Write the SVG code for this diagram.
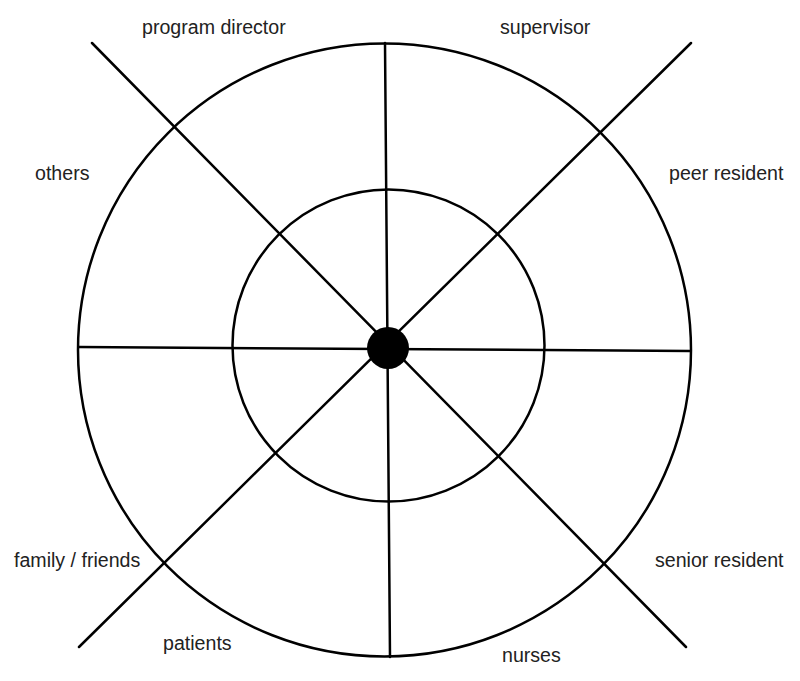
<svg xmlns="http://www.w3.org/2000/svg" width="800" height="681" viewBox="0 0 800 681">
<style>
.ln{stroke:#000;stroke-width:2.5;fill:none;stroke-linecap:round}
.lbl{font-family:"Liberation Sans",Arial,sans-serif;font-size:19.6px;fill:#222}
</style>
<rect width="800" height="681" fill="#fff"/>
<g id="rings">
<circle class="ln" cx="384.5" cy="350" r="306.5"/>
<circle class="ln" cx="388.5" cy="345.5" r="156"/>
</g>
<g id="connectors">
<line class="ln" x1="385" y1="43" x2="390" y2="657"/>
<line class="ln" x1="79" y1="347" x2="690" y2="351"/>
<line class="ln" x1="92" y1="43" x2="686" y2="647"/>
<line class="ln" x1="691" y1="43" x2="79" y2="647"/>
</g>
<g id="center"><circle cx="388" cy="348" r="21" fill="#000"/></g>
<g id="n-program-director"><text class="lbl" x="142" y="34">program director</text></g>
<g id="n-supervisor"><text class="lbl" x="500" y="34">supervisor</text></g>
<g id="n-others"><text class="lbl" x="35" y="180">others</text></g>
<g id="n-peer-resident"><text class="lbl" x="669" y="180">peer resident</text></g>
<g id="n-family-friends"><text class="lbl" x="14" y="567">family / friends</text></g>
<g id="n-senior-resident"><text class="lbl" x="655" y="567">senior resident</text></g>
<g id="n-patients"><text class="lbl" x="163" y="650">patients</text></g>
<g id="n-nurses"><text class="lbl" x="502" y="662">nurses</text></g>
</svg>
